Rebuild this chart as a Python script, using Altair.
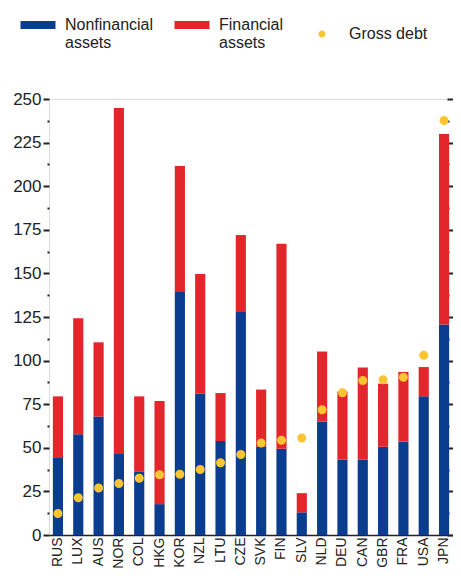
import altair as alt
import pandas as pd

countries = ["RUS", "LUX", "AUS", "NOR", "COL", "HKG", "KOR", "NZL", "LTU", "CZE",
             "SVK", "FIN", "SLV", "NLD", "DEU", "CAN", "GBR", "FRA", "USA", "JPN"]
nonfinancial = [44.6, 57.8, 67.9, 46.5, 36.2, 17.7, 139.4, 81.2, 53.9, 127.8,
                50.7, 49.4, 13.0, 65.1, 43.3, 43.3, 50.6, 53.5, 79.5, 120.7]
financial = [34.9, 66.5, 42.6, 198.3, 43.3, 59.2, 72.2, 68.5, 27.5, 44.2,
             32.7, 117.6, 11.0, 40.1, 39.0, 52.7, 36.2, 40.0, 16.8, 109.2]
gross_debt = [12.3, 21.4, 27.0, 29.5, 32.5, 34.5, 34.9, 37.5, 41.4, 46.1,
              52.8, 54.3, 55.6, 71.8, 81.5, 88.6, 89.0, 90.5, 103.0, 237.7]

series = ["Nonfinancial assets", "Financial assets", "Gross debt"]
colors = ["#0a3d8f", "#e3262b", "#fbc531"]
# legend / point shapes: wide bar swatch for assets, small dot for debt
bar_path = "M-2,-0.46H2V0.46H-2Z"
dot_path = "M0,-0.4A0.4,0.4 0 1,1 0,0.4A0.4,0.4 0 1,1 0,-0.4Z"
y_ticks = [i * 12.5 for i in range(21)]

FONT = "Liberation Sans"

bars_df = pd.DataFrame({
    "country": countries * 2,
    "series": [series[0]] * len(countries) + [series[1]] * len(countries),
    "value": nonfinancial + financial,
    "order": [0] * len(countries) + [1] * len(countries),
})
debt_df = pd.DataFrame({"country": countries, "series": series[2], "value": gross_debt})

x_enc = alt.X("country:N", sort=countries, title=None,
              scale=alt.Scale(paddingInner=0.5, paddingOuter=0.19),
              axis=alt.Axis(labelAngle=-90, labelAlign="right", labelBaseline="middle",
                            labelFontSize=14, labelColor="#222", ticks=False,
                            domainColor="#222", domainWidth=1.5, labelPadding=2))

legend = alt.Legend(title=None, orient="none", direction="horizontal",
                    legendX=-29, legendY=-83, symbolSize=306, symbolOffset=9,
                    symbolStrokeWidth=0, labelFontSize=16, labelColor="#222",
                    labelOffset=18, columnPadding=20, labelLimit=200,
                    labelBaseline="middle",
                    labelExpr="datum.label == 'Gross debt' ? datum.label : split(datum.label, ' ')")

color_enc = alt.Color("series:N", scale=alt.Scale(domain=series, range=colors), legend=legend)
shape_enc = alt.Shape("series:N", scale=alt.Scale(domain=series, range=[bar_path, bar_path, dot_path]),
                      legend=legend)

minor_size = {"condition": {"test": "datum.value % 25 != 0", "value": 2}, "value": 6}

bars = alt.Chart(bars_df).mark_bar().encode(
    x=x_enc,
    y=alt.Y("value:Q", stack="zero", title=None,
            scale=alt.Scale(domain=[0, 250], nice=False),
            axis=alt.Axis(values=y_ticks, labelExpr="datum.value % 25 == 0 ? datum.label : ''",
                          labelFontSize=17, labelColor="#222", domain=False, grid=False,
                          tickColor="#222", tickSize=minor_size, tickWidth=2, labelPadding=2)),
    color=color_enc,
    order=alt.Order("order:Q"),
)

points = alt.Chart(debt_df).mark_point(filled=True, size=506, opacity=1).encode(
    x=alt.X("country:N", sort=countries),
    y=alt.Y("value:Q", axis=None),
    color=color_enc,
    shape=shape_enc,
)

# right-hand tick marks, pulled just inside the right edge
right_axis = alt.Chart(debt_df).mark_point(opacity=0).encode(
    x=alt.X("country:N", sort=countries),
    y=alt.Y("value:Q", axis=alt.Axis(orient="right", values=y_ticks, labels=False,
                                     domain=False, grid=False, tickColor="#222",
                                     tickSize=minor_size, tickWidth=2, title=None,
                                     offset=-6)),
)

# fixed canvas so the page never overflows the window
chart = alt.layer(bars, points, right_axis).resolve_axis(y="independent").properties(
    width=404, height=436,
    autosize=alt.AutoSizeParams(type="none"),
    padding={"left": 41, "top": 91, "right": 0, "bottom": 36},
).configure_view(stroke=None).configure(font=FONT)

chart.save("out.html", embed_options={"renderer": "svg", "actions": False})
